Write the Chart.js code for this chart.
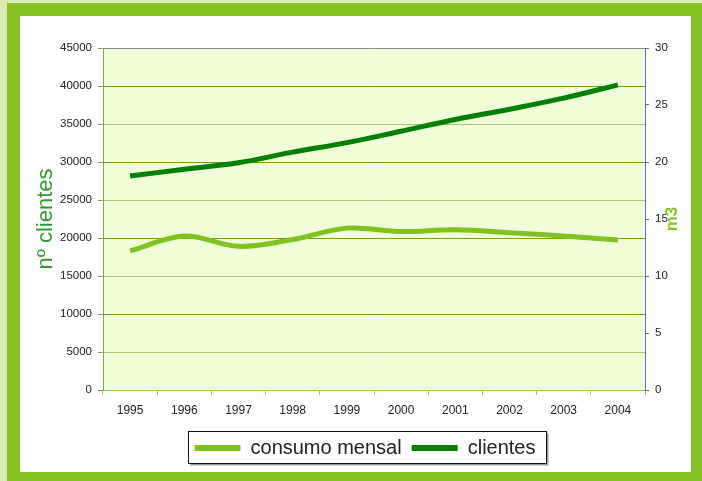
<!DOCTYPE html>
<html>
<head>
<meta charset="utf-8">
<script src="https://cdn.jsdelivr.net/npm/chart.js@4/dist/chart.umd.min.js"></script>
<style>
html,body{margin:0;padding:0;background:#fff;}
#wrap{position:relative;width:702px;height:481px;}
</style>
</head>
<body>
<div id="wrap"><canvas id="c" width="702" height="481"></canvas></div>
<script>
const years = ['1995','1996','1997','1998','1999','2000','2001','2002','2003','2004'];
const consumoMensal = [12.2, 13.5, 12.6, 13.2, 14.2, 13.9, 14.05, 13.8, 13.5, 13.15];
const clientes = [28150, 29050, 29900, 31300, 32550, 34050, 35600, 36950, 38400, 40150];
const leftTitle = 'nº clientes';
const rightTitle = 'm3';

const frame = {
  id: 'frame',
  afterLayout(chart) {
    const lg = chart.legend;
    if (lg) { lg.left += 14; lg.right += 14; }
  },
  beforeDraw(chart) {
    const ctx = chart.ctx, a = chart.chartArea;
    ctx.save();
    ctx.fillStyle = '#dcebb6';
    ctx.fillRect(0, 0, 702, 481);
    ctx.fillStyle = '#86c226';
    ctx.fillRect(7, 3, 695, 478);
    ctx.fillStyle = '#ffffff';
    ctx.fillRect(20, 16, 671, 456);
    ctx.fillStyle = '#f1fcd9';
    ctx.fillRect(a.left, a.top, a.right - a.left, a.bottom - a.top);
    ctx.restore();
  },
  afterDraw(chart) {
    const ctx = chart.ctx;
    ctx.save();
    ctx.translate(672, 219);
    ctx.rotate(-Math.PI / 2);
    ctx.font = 'bold 17px "Liberation Sans", Arial, sans-serif';
    ctx.fillStyle = '#88c424';
    ctx.textAlign = 'center';
    ctx.textBaseline = 'middle';
    ctx.fillText(rightTitle, 0, 0);
    ctx.restore();
    const x0 = 188.5, x1 = 546.5, y0 = 431.5, y1 = 463.5;
    ctx.save();
    ctx.strokeStyle = '#9a9a9a';
    ctx.lineWidth = 2;
    ctx.beginPath();
    ctx.moveTo(x0 + 2, y1 + 1); ctx.lineTo(x1 + 1, y1 + 1); ctx.lineTo(x1 + 1, y0 + 2);
    ctx.stroke();
    ctx.strokeStyle = '#111';
    ctx.lineWidth = 1;
    ctx.strokeRect(x0, y0, x1 - x0, y1 - y0);
    ctx.restore();
  }
};

const FONT = '"Liberation Sans", Arial, sans-serif';
const plain = v => String(v);

new Chart(document.getElementById('c'), {
  type: 'line',
  data: {
    labels: years,
    datasets: [
      { label: 'consumo mensal', data: consumoMensal, yAxisID: 'y1',
        borderColor: '#80c31f', backgroundColor: '#80c31f', borderWidth: 5,
        pointRadius: 0, tension: 0.35, borderCapStyle: 'butt', fill: false },
      { label: 'clientes', data: clientes, yAxisID: 'y',
        borderColor: '#008000', backgroundColor: '#008000', borderWidth: 5,
        pointRadius: 0, tension: 0.35, borderCapStyle: 'butt', fill: false }
    ]
  },
  options: {
    responsive: false,
    animation: false,
    devicePixelRatio: 1,
    layout: { padding: { left: 0, right: 0, top: 48, bottom: 13 } },
    plugins: {
      tooltip: { enabled: false },
      legend: {
        position: 'bottom',
        labels: {
          font: { family: FONT, size: 20 },
          color: '#222',
          boxWidth: 46,
          boxHeight: 6,
          padding: 10,
          generateLabels(chart) {
            return chart.data.datasets.map((d, i) => ({
              text: d.label, fillStyle: d.borderColor, strokeStyle: d.borderColor,
              lineWidth: 0, hidden: false, datasetIndex: i, fontColor: '#222'
            }));
          }
        }
      }
    },
    scales: {
      x: {
        type: 'category',
        offset: true,
        afterFit(s) { s.height = 38; },
        grid: { offset: true, drawOnChartArea: false, drawTicks: true, tickLength: 5, tickColor: '#9acd50' },
        border: { display: true, color: '#9acd50', width: 1 },
        ticks: { font: { family: FONT, size: 12 }, color: '#222', padding: 8, maxRotation: 0, autoSkip: false }
      },
      y: {
        position: 'left',
        min: 0, max: 45000,
        afterFit(s) { s.width = 103; },
        ticks: { stepSize: 5000, font: { family: FONT, size: 11.5 }, color: '#222', padding: 6, callback: plain },
        grid: {
          tickLength: 5,
          tickColor: '#8f9a5a',
          color(ctx) {
            const v = ctx.tick ? ctx.tick.value : 0;
            if (v === 45000) return '#8a8a8a';
            if (v === 0) return '#9acd50';
            return (v % 10000 === 0) ? '#7f9a12' : '#aac46c';
          },
          lineWidth: 1
        },
        border: { display: true, color: '#8f9a5a', width: 1 },
        title: { display: true, text: leftTitle, color: '#2f9a2f',
                 font: { family: FONT, size: 22 }, padding: { top: 33, bottom: 0 } }
      },
      y1: {
        position: 'right',
        min: 0, max: 30,
        afterFit(s) { s.width = 57; },
        ticks: { stepSize: 5, font: { family: FONT, size: 11.5 }, color: '#222', padding: 6, callback: plain },
        grid: { drawOnChartArea: false, drawTicks: true, tickLength: 4, tickColor: '#6464a8' },
        border: { display: true, color: '#6464a8', width: 1 }
      }
    }
  },
  plugins: [frame]
});
</script>
</body>
</html>
